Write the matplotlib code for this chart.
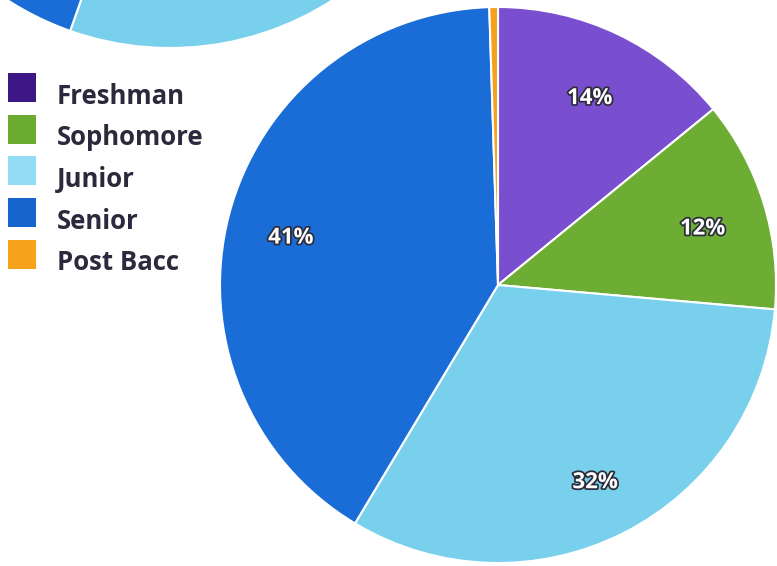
import matplotlib
matplotlib.use("Agg")
import matplotlib.pyplot as plt
import matplotlib.patheffects as pe
from matplotlib.patches import Rectangle

plt.rcParams['font.family'] = ['Open Sans', 'DejaVu Sans']

# data
categories = ["Freshman", "Sophomore", "Junior", "Senior", "Post Bacc"]
shares = [14.1, 12.3, 32.2, 40.9, 0.5]
# the chart above, only partly visible at the top edge
prev_shares = [11, 11, 33.4, 43.6, 1]

slice_colors = ["#7a4fcf", "#6dad33", "#78d0ec", "#1a6dd6", "#f5a11c"]
legend_colors = ["#3e1787", "#6aab30", "#92dcf6", "#1565cc", "#f6a21a"]

W, H = 777, 566
fig = plt.figure(figsize=(W / 100, H / 100), dpi=100)


def px_axes(cx, cy, r):
    # axes box around a circle given in pixel coords (y from top)
    return fig.add_axes([(cx - r) / W, (H - cy - r) / H, 2 * r / W, 2 * r / H])


# partial pie at top
ax0 = px_axes(170, -252, 300)
ax0.pie(prev_shares, colors=slice_colors, startangle=90, counterclock=False,
        wedgeprops=dict(edgecolor="white", linewidth=1.5))
ax0.set_xlim(-1, 1)
ax0.set_ylim(-1, 1)
ax0.set_axis_off()

# main pie
ax = px_axes(498, 285, 278)


def pct(v):
    return f"{v:.0f}%" if v >= 2 else ""


wedges, texts, autotexts = ax.pie(
    shares, colors=slice_colors, startangle=90, counterclock=False,
    autopct=pct, pctdistance=0.77,
    wedgeprops=dict(edgecolor="white", linewidth=1.5))
for t in autotexts:
    x, y = t.get_position()
    t.set_position((x, y - 7 / 278))
    t.set_color("white")
    t.set_fontsize(16)
    t.set_fontweight("bold")
    t.set_path_effects([pe.withStroke(linewidth=2.5, foreground="#2b2b3a")])
ax.set_xlim(-1, 1)
ax.set_ylim(-1, 1)
ax.set_axis_off()

# legend drawn by hand
for i, (name, col) in enumerate(zip(categories, legend_colors)):
    top = 73 + i * 41.7
    fig.add_artist(Rectangle((8 / W, (H - top - 29) / H), 28 / W, 29 / H,
                             transform=fig.transFigure, color=col, lw=0))
    fig.text(57 / W, (H - top - 23) / H, name, fontsize=18.5, fontweight="bold",
             color="#2a2a3c", va="center", ha="left")

fig.savefig("out.png", dpi=100)
